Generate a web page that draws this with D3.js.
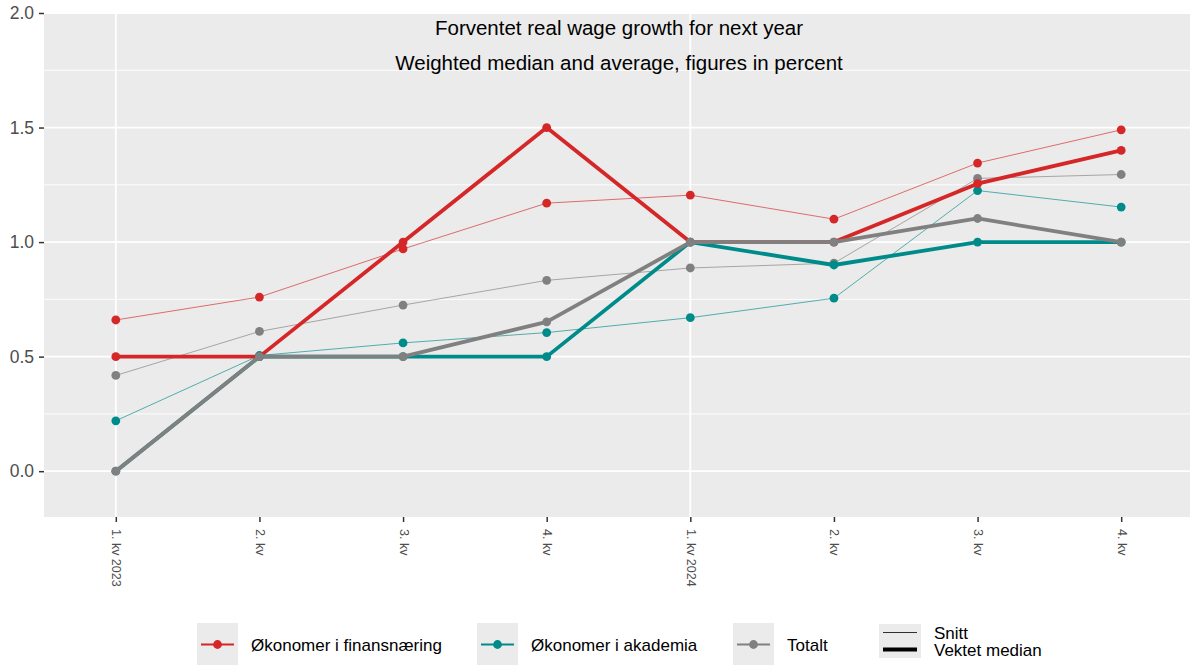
<!DOCTYPE html>
<html><head><meta charset="utf-8">
<script src="https://cdn.jsdelivr.net/npm/d3@7"></script>
<style>
body{margin:0;background:#fff;}
svg{display:block;font-family:"Liberation Sans",Arial,sans-serif;}
</style></head>
<body><svg id="chart" width="1190" height="665"></svg>
<script>
const categories = ["1. kv 2023","2. kv","3. kv","4. kv","1. kv 2024","2. kv ","3. kv ","4. kv "];
const yTicks = [0, 0.5, 1.0, 1.5, 2.0];
const yMinor = [0.25, 0.75, 1.25, 1.75];
const seriesNames = ["Økonomer i finansnæring","Økonomer i akademia","Totalt"];
const seriesColors = ["#d62728","#008b8b","#808080"];
const finansSnitt   = [0.66, 0.76, 0.97, 1.17, 1.205, 1.10, 1.345, 1.49];
const finansMedian  = [0.5, 0.5, 1.0, 1.5, 1.0, 1.0, 1.255, 1.40];
const akademiaSnitt = [0.22, 0.505, 0.56, 0.605, 0.67, 0.755, 1.225, 1.153];
const akademiaMedian= [0.0, 0.5, 0.5, 0.5, 1.0, 0.9, 1.0, 1.0];
const totaltSnitt   = [0.418, 0.61, 0.725, 0.833, 0.887, 0.908, 1.278, 1.295];
const totaltMedian  = [0.0, 0.5, 0.5, 0.652, 1.0, 1.0, 1.103, 1.0];
const title = "Forventet real wage growth for next year";
const subtitle = "Weighted median and average, figures in percent";
const lineTypes = ["Snitt","Vektet median"];

const svg = d3.select("#chart");
const panel = {left:44, top:13, right:1193, bottom:517};
const x = d3.scalePoint().domain(categories).range([panel.left, panel.right]).padding(0.5);
const y = d3.scaleLinear().domain([-0.2, 2.0]).range([panel.bottom, panel.top]);

svg.append("rect").attr("x",panel.left).attr("y",panel.top)
  .attr("width",panel.right-panel.left).attr("height",panel.bottom-panel.top).attr("fill","#ebebeb");

// grid
svg.selectAll(".minor").data(yMinor).join("line")
  .attr("x1",panel.left).attr("x2",panel.right)
  .attr("y1",d=>y(d)).attr("y2",d=>y(d)).attr("stroke","#fff").attr("stroke-width",0.9);
svg.selectAll(".major").data(yTicks).join("line")
  .attr("x1",panel.left).attr("x2",panel.right)
  .attr("y1",d=>y(d)).attr("y2",d=>y(d)).attr("stroke","#fff").attr("stroke-width",1.8);
svg.selectAll(".vmajor").data([categories[0], categories[4]]).join("line")
  .attr("x1",d=>x(d)).attr("x2",d=>x(d))
  .attr("y1",panel.top).attr("y2",panel.bottom).attr("stroke","#fff").attr("stroke-width",1.8);

// title
svg.append("text").attr("x",619).attr("y",35).attr("text-anchor","middle")
  .attr("font-size",20.5).attr("fill","#000").text(title);
svg.append("text").attr("x",619).attr("y",70).attr("text-anchor","middle")
  .attr("font-size",20.5).attr("fill","#000").text(subtitle);

// axes
const yAxis = d3.axisLeft(y).tickValues(yTicks).tickFormat(d3.format(".1f")).tickSize(5).tickPadding(5);
const gy = svg.append("g").attr("transform",`translate(${panel.left},0)`).call(yAxis);
gy.select(".domain").remove();
gy.selectAll("line").attr("stroke","#333").attr("stroke-width",1.5);
gy.selectAll("text").attr("font-size",17.5).attr("fill","#4d4d4d").attr("font-family","Liberation Sans, Arial, sans-serif");

const xAxis = d3.axisBottom(x).tickSize(5).tickPadding(0);
const gx = svg.append("g").attr("transform",`translate(0,${panel.bottom})`).call(xAxis);
gx.select(".domain").remove();
gx.selectAll("line").attr("stroke","#333").attr("stroke-width",1.5);
gx.selectAll("text").attr("font-size",12.5).attr("fill","#4d4d4d")
  .attr("font-family","Liberation Sans, Arial, sans-serif")
  .attr("text-anchor","start").attr("dy",null)
  .attr("transform","translate(0,12) rotate(90)").attr("x",0).attr("y",0)
  .attr("dominant-baseline","central").text(d=>d.trim());

// lines
const line = d3.line().x((d,i)=>x(categories[i])).y(d=>y(d));
const snitt = [finansSnitt, akademiaSnitt, totaltSnitt];
const median = [finansMedian, akademiaMedian, totaltMedian];
const groups = [];
snitt.forEach((v,i)=>groups.push({v, c:seriesColors[i], w:1.0, op:0.65}));
median.forEach((v,i)=>groups.push({v, c:seriesColors[i], w:3.8, op:1}));
groups.forEach(g=>{
  svg.append("path").datum(g.v).attr("d",line).attr("fill","none")
    .attr("stroke",g.c).attr("stroke-width",g.w).attr("stroke-opacity",g.op)
    .attr("stroke-linejoin","round");
  svg.append("g").selectAll("circle").data(g.v).join("circle")
    .attr("cx",(d,i)=>x(categories[i])).attr("cy",d=>y(d)).attr("r",4.4).attr("fill",g.c);
});

// legend
const legX = [197, 477, 733];
const lg = svg.append("g");
seriesNames.forEach((n,i)=>{
  const bx = legX[i];
  lg.append("rect").attr("x",bx).attr("y",623).attr("width",41).attr("height",42).attr("fill","#ebebeb");
  lg.append("line").attr("x1",bx+4).attr("x2",bx+37).attr("y1",644.5).attr("y2",644.5)
    .attr("stroke",seriesColors[i]).attr("stroke-width",2.2);
  lg.append("circle").attr("cx",bx+20.5).attr("cy",644.5).attr("r",4.4).attr("fill",seriesColors[i]);
  lg.append("text").attr("x",bx+54).attr("y",650.5).attr("font-size",17).attr("fill","#000").text(n);
});
const lx = 879;
lg.append("rect").attr("x",lx).attr("y",624).attr("width",42).attr("height",34).attr("fill","#ebebeb");
lg.append("line").attr("x1",lx+4).attr("x2",lx+38).attr("y1",632.5).attr("y2",632.5).attr("stroke","#000").attr("stroke-width",0.8);
lg.append("line").attr("x1",lx+4).attr("x2",lx+38).attr("y1",649.5).attr("y2",649.5).attr("stroke","#000").attr("stroke-width",3.8);
lineTypes.forEach((t,i)=>{
  lg.append("text").attr("x",934).attr("y",638.5+i*17.5).attr("font-size",17).attr("fill","#000").text(t);
});
</script></body></html>
